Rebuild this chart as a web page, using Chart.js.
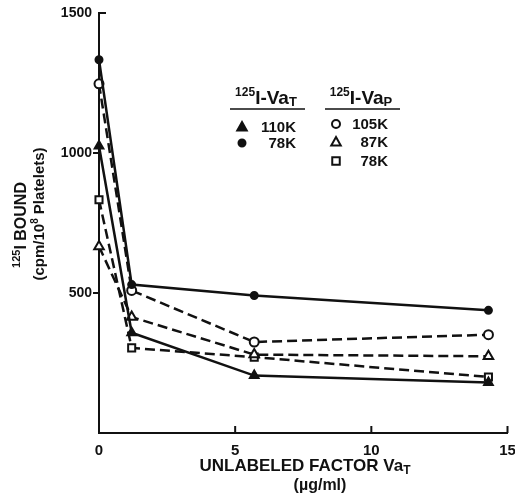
<!DOCTYPE html>
<html>
<head>
<meta charset="utf-8">
<script src="https://cdn.jsdelivr.net/npm/chart.js@4.4.0/dist/chart.umd.min.js"></script>
<style>
html, body { margin: 0; padding: 0; background: #fff; }
#wrap { width: 515px; height: 496px; }
</style>
</head>
<body>
<div id="wrap"><canvas id="binding" width="515" height="496"></canvas></div>
<script>
// unlabeled factor VaT added (ug/ml)
var doses = [0, 1.2, 5.7, 14.3];
// 125I bound (cpm / 10^8 platelets) for each labeled protein
var vaT110 = [1025, 358, 205, 180];
var vaT78 = [1333, 530, 491, 438];
var vaP105 = [1247, 509, 325, 351];
var vaP87 = [666, 414, 280, 274];
var vaP78 = [833, 304, 271, 200];
var xTicks = [0, 5, 10, 15];
var yTicks = [500, 1000, 1500];

var FONT = '"Liberation Sans", Arial, sans-serif';

function series(label, values, shape, filled, dashed, radius) {
    var pts = [];
    for (var i = 0; i < doses.length; i++) {
        pts.push({ x: doses[i], y: values[i] });
    }
    return {
        label: label,
        data: pts,
        showLine: true,
        clip: false,
        borderColor: '#111',
        borderWidth: 2.5,
        borderDash: dashed ? [10, 5] : [],
        pointStyle: shape,
        pointRadius: radius,
        pointBorderWidth: 2,
        pointBorderColor: '#111',
        pointBackgroundColor: filled ? '#111' : '#fff'
    };
}

// draws text pieces (normal, superscript, subscript) centred on cx
function richText(ctx, parts, cx, cy) {
    var total = 0;
    parts.forEach(function(p) {
        ctx.font = p.font;
        p.w = ctx.measureText(p.text).width;
        total += p.w;
    });
    var x = cx - total / 2;
    ctx.textAlign = 'left';
    ctx.textBaseline = 'alphabetic';
    parts.forEach(function(p) {
        ctx.font = p.font;
        ctx.fillText(p.text, x, cy + (p.dy || 0));
        x += p.w;
    });
}

function marker(ctx, shape, filled, x, y, r) {
    ctx.beginPath();
    if (shape === 'triangle') {
        ctx.moveTo(x, y - r);
        ctx.lineTo(x + r * 0.95, y + r * 0.7);
        ctx.lineTo(x - r * 0.95, y + r * 0.7);
        ctx.closePath();
    } else if (shape === 'rect') {
        ctx.rect(x - r * 0.75, y - r * 0.75, r * 1.5, r * 1.5);
    } else {
        ctx.arc(x, y, r, 0, Math.PI * 2);
    }
    ctx.lineWidth = 2;
    ctx.strokeStyle = '#111';
    ctx.fillStyle = filled ? '#111' : '#fff';
    ctx.fill();
    ctx.stroke();
}

var extras = {
    id: 'extras',
    afterDraw: function(chart) {
        var ctx = chart.ctx;
        var xs = chart.scales.x, ys = chart.scales.y;
        var area = chart.chartArea;
        ctx.save();
        ctx.strokeStyle = '#111';
        ctx.fillStyle = '#111';
        ctx.lineWidth = 2;
        // x ticks point into the plot
        xTicks.forEach(function(v) {
            if (v === 0) return;
            var px = xs.getPixelForValue(v);
            ctx.beginPath();
            ctx.moveTo(px, area.bottom);
            ctx.lineTo(px, area.bottom - 7);
            ctx.stroke();
        });
        // cap at top of y axis
        var top = ys.getPixelForValue(1500);
        ctx.beginPath();
        ctx.moveTo(area.left, top);
        ctx.lineTo(area.left + 7, top);
        ctx.stroke();

        // x axis title
        richText(ctx, [
            { text: 'UNLABELED FACTOR Va', font: 'bold 17px ' + FONT },
            { text: 'T', font: 'bold 12px ' + FONT, dy: 3 }
        ], 305, 471);
        richText(ctx, [{ text: '(\u00b5g/ml)', font: 'bold 16px ' + FONT }], 320, 490);

        // y axis title, two rotated lines
        ctx.save();
        ctx.translate(26, 225);
        ctx.rotate(-Math.PI / 2);
        richText(ctx, [
            { text: '125', font: 'bold 11px ' + FONT, dy: -6 },
            { text: 'I BOUND', font: 'bold 16px ' + FONT }
        ], 0, 0);
        ctx.restore();
        ctx.save();
        ctx.translate(44, 214);
        ctx.rotate(-Math.PI / 2);
        richText(ctx, [
            { text: '(cpm/10', font: 'bold 15px ' + FONT },
            { text: '8', font: 'bold 10px ' + FONT, dy: -6 },
            { text: ' Platelets)', font: 'bold 15px ' + FONT }
        ], 0, 0);
        ctx.restore();

        // legend, two groups
        richText(ctx, [
            { text: '125', font: 'bold 12px ' + FONT, dy: -8 },
            { text: 'I-Va', font: 'bold 19px ' + FONT },
            { text: 'T', font: 'bold 13px ' + FONT, dy: 2 }
        ], 266, 104);
        richText(ctx, [
            { text: '125', font: 'bold 12px ' + FONT, dy: -8 },
            { text: 'I-Va', font: 'bold 19px ' + FONT },
            { text: 'P', font: 'bold 13px ' + FONT, dy: 2 }
        ], 361, 104);
        ctx.lineWidth = 1.5;
        ctx.beginPath();
        ctx.moveTo(230, 109); ctx.lineTo(305, 109);
        ctx.moveTo(325, 109); ctx.lineTo(400, 109);
        ctx.stroke();

        var rows = [
            { shape: 'triangle', filled: true, text: '110K', x: 242, y: 127, r: 5 },
            { shape: 'circle', filled: true, text: '78K', x: 242, y: 143, r: 3.5 },
            { shape: 'circle', filled: false, text: '105K', x: 336, y: 124, r: 4 },
            { shape: 'triangle', filled: false, text: '87K', x: 336, y: 142, r: 5 },
            { shape: 'rect', filled: false, text: '78K', x: 336, y: 161, r: 5 }
        ];
        rows.forEach(function(r) {
            marker(ctx, r.shape, r.filled, r.x, r.y, r.r);
            ctx.fillStyle = '#111';
            ctx.font = 'bold 15px ' + FONT;
            ctx.textAlign = 'right';
            ctx.textBaseline = 'middle';
            ctx.fillText(r.text, r.x < 300 ? 296 : 388, r.y + 1);
        });
        ctx.restore();
    }
};

var ctx = document.getElementById('binding');
var chart = new Chart(ctx, {
    type: 'scatter',
    data: {
        datasets: [
            series('110K VaT', vaT110, 'triangle', true, false, 5),
            series('78K VaT', vaT78, 'circle', true, false, 3.5),
            series('105K VaP', vaP105, 'circle', false, true, 4.5),
            series('87K VaP', vaP87, 'triangle', false, true, 5.5),
            series('78K VaP', vaP78, 'rect', false, true, 5)
        ]
    },
    options: {
        responsive: false,
        animation: false,
        devicePixelRatio: 1,
        layout: { padding: { left: 0, top: 13, right: 6, bottom: 0 } },
        plugins: {
            legend: { display: false },
            tooltip: { enabled: false }
        },
        scales: {
            x: {
                type: 'linear',
                min: 0,
                max: 15,
                afterBuildTicks: function(scale) {
                    scale.ticks = xTicks.map(function(v) { return { value: v }; });
                },
                afterFit: function(scale) {
                    scale.height = 63;
                    scale.paddingLeft = 0;
                    scale.paddingRight = 0;
                },
                grid: { display: false, drawTicks: false },
                border: { display: true, color: '#111', width: 2 },
                ticks: {
                    padding: 9,
                    color: '#111',
                    maxRotation: 0,
                    callback: function(v) { return String(v); },
                    font: { family: FONT, size: 15, weight: 'bold' }
                }
            },
            y: {
                type: 'linear',
                min: 0,
                max: 1500,
                afterBuildTicks: function(scale) {
                    scale.ticks = yTicks.map(function(v) { return { value: v }; });
                },
                afterFit: function(scale) {
                    scale.width = 99;
                    scale.paddingTop = 0;
                    scale.paddingBottom = 0;
                },
                grid: {
                    drawOnChartArea: false,
                    tickLength: 6,
                    lineWidth: 2,
                    color: function(c) { return c.tick && c.tick.value === 1500 ? 'rgba(0,0,0,0)' : '#111'; }
                },
                border: { display: true, color: '#111', width: 2 },
                ticks: {
                    padding: 1,
                    color: '#111',
                    callback: function(v) { return String(v); },
                    font: { family: FONT, size: 14, weight: 'bold' }
                }
            }
        }
    },
    plugins: [extras]
});
</script>
</body>
</html>
